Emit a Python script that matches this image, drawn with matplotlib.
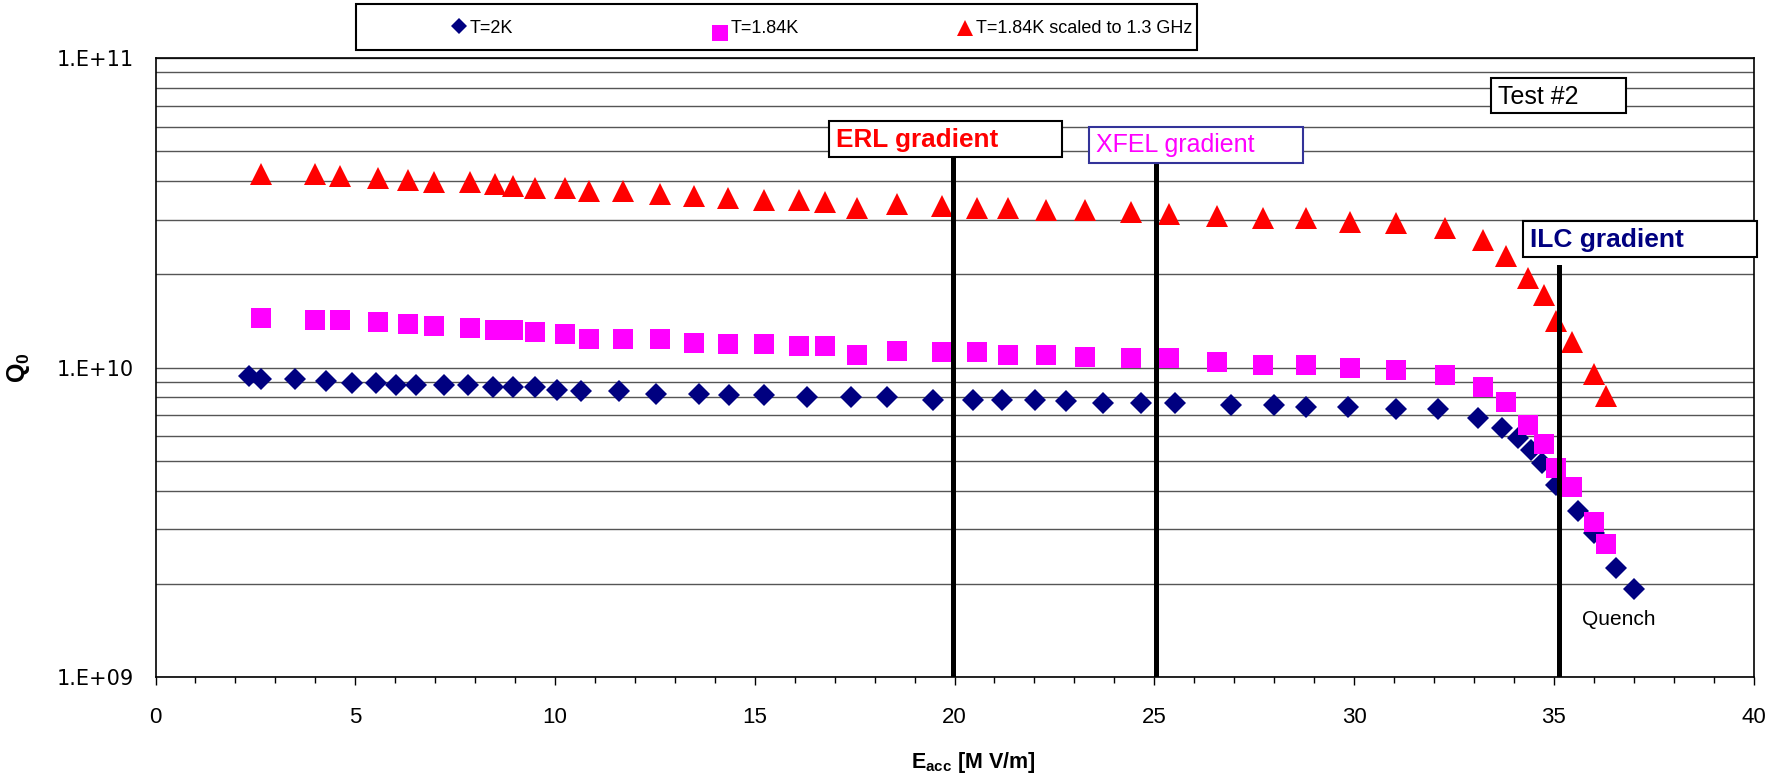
import numpy as np
import matplotlib.pyplot as plt
from matplotlib.patches import Rectangle
from matplotlib.lines import Line2D
from matplotlib.ticker import LogLocator, MultipleLocator, FuncFormatter, NullFormatter

plt.rcParams['mathtext.fontset'] = 'custom'
plt.rcParams['mathtext.rm'] = 'Liberation Sans:bold'
plt.rcParams['mathtext.bf'] = 'Liberation Sans:bold'
plt.rcParams['mathtext.default'] = 'rm'

# Q0 vs Eacc, T = 2 K
e_2k = [2.33, 2.65, 3.48, 4.28, 4.93, 5.53, 6.03, 6.53, 7.23, 7.83,
        8.44, 8.94, 9.49, 10.04, 10.64, 11.59, 12.54, 13.60, 14.35, 15.24,
        16.30, 17.40, 18.31, 19.46, 20.46, 21.20, 22.01, 22.80, 23.71, 24.66,
        25.51, 26.92, 28.01, 28.81, 29.86, 31.06, 32.11, 33.11, 33.71, 34.10,
        34.44, 34.71, 35.06, 35.61, 36.02, 36.57, 37.02]
q_2k = [9.42e9, 9.15e9, 9.15e9, 9.02e9, 8.88e9, 8.88e9, 8.75e9, 8.75e9, 8.75e9, 8.75e9,
        8.62e9, 8.62e9, 8.62e9, 8.49e9, 8.37e9, 8.37e9, 8.24e9, 8.24e9, 8.12e9, 8.12e9,
        8.00e9, 8.00e9, 8.00e9, 7.88e9, 7.88e9, 7.88e9, 7.88e9, 7.77e9, 7.66e9, 7.66e9,
        7.66e9, 7.54e9, 7.54e9, 7.43e9, 7.43e9, 7.32e9, 7.32e9, 6.87e9, 6.37e9, 5.92e9,
        5.42e9, 4.93e9, 4.17e9, 3.44e9, 2.93e9, 2.25e9, 1.92e9]

# T = 1.84 K, same gradients used for the 1.3 GHz scaled curve
e_184 = [2.63, 3.98, 4.63, 5.58, 6.33, 6.98, 7.88, 8.49, 8.94, 9.49,
         10.24, 10.84, 11.69, 12.64, 13.49, 14.34, 15.24, 16.10, 16.75, 17.55,
         18.55, 19.68, 20.56, 21.35, 22.30, 23.26, 24.41, 25.36, 26.56, 27.71,
         28.81, 29.91, 31.06, 32.27, 33.22, 33.80, 34.35, 34.75, 35.06, 35.46,
         36.01, 36.31]
q_184 = [1.44e10, 1.42e10, 1.42e10, 1.40e10, 1.38e10, 1.36e10, 1.34e10, 1.32e10, 1.32e10, 1.30e10,
         1.28e10, 1.24e10, 1.24e10, 1.24e10, 1.20e10, 1.19e10, 1.19e10, 1.17e10, 1.17e10, 1.10e10,
         1.13e10, 1.12e10, 1.12e10, 1.10e10, 1.10e10, 1.08e10, 1.07e10, 1.07e10, 1.04e10, 1.02e10,
         1.02e10, 9.93e9, 9.78e9, 9.49e9, 8.68e9, 7.75e9, 6.51e9, 5.66e9, 4.74e9, 4.11e9,
         3.16e9, 2.68e9]
q_184_scaled = [4.22e10, 4.22e10, 4.16e10, 4.10e10, 4.04e10, 3.98e10, 3.98e10, 3.92e10, 3.87e10, 3.81e10,
                3.81e10, 3.71e10, 3.71e10, 3.64e10, 3.59e10, 3.53e10, 3.47e10, 3.47e10, 3.42e10, 3.27e10,
                3.37e10, 3.32e10, 3.27e10, 3.27e10, 3.23e10, 3.23e10, 3.18e10, 3.14e10, 3.09e10, 3.05e10,
                3.05e10, 2.96e10, 2.92e10, 2.83e10, 2.59e10, 2.30e10, 1.95e10, 1.71e10, 1.41e10, 1.21e10,
                9.53e9, 8.09e9]

series_labels = ['T=2K', 'T=1.84K', 'T=1.84K scaled to 1.3 GHz']

# design gradients of the three machines
gradient_names = ['ERL gradient', 'XFEL gradient', 'ILC gradient']
gradient_e = [19.95, 25.05, 35.12]

W, H = 1782, 780
fig = plt.figure(figsize=(W / 100, H / 100), dpi=100)
ax = fig.add_axes([155.5 / W, 1 - 677 / H, 1598 / W, 619 / H])

ax.plot(e_2k, q_2k, ls='none', marker='D', ms=11, color='#000080', mew=0, zorder=3)
ax.plot(e_184, q_184, ls='none', marker='s', ms=14.2, color='#ff00ff', mew=0, zorder=3)
ax.plot(e_184, q_184_scaled, ls='none', marker='^', ms=15.4, color='#ff0000', mew=0, zorder=3)

ax.set_yscale('log')
ax.set_ylim(1e9, 1e11)
ax.set_xlim(0, 40)
ax.yaxis.set_major_locator(LogLocator(base=10))
ax.yaxis.set_minor_locator(LogLocator(base=10, subs=np.arange(2, 10)))
ax.yaxis.set_major_formatter(FuncFormatter(lambda v, _: '1.E+%02d' % round(np.log10(v))))
ax.yaxis.set_minor_formatter(NullFormatter())
ax.xaxis.set_major_locator(MultipleLocator(5))
ax.xaxis.set_minor_locator(MultipleLocator(1))
ax.grid(which='both', axis='y', color='#555555', lw=1.0)
ax.set_axisbelow(True)
for s in ax.spines.values():
    s.set_linewidth(1.2)

ax.tick_params(axis='y', which='both', length=0, pad=15.5)
ax.tick_params(axis='x', which='major', direction='out', length=5.8, width=1, pad=16)
ax.tick_params(axis='x', which='minor', direction='out', length=4.3, width=1)
for lab in ax.get_yticklabels():
    lab.set_fontfamily('DejaVu Sans')
    lab.set_fontsize(15)
for lab in ax.get_xticklabels():
    lab.set_fontfamily(['Liberation Sans', 'DejaVu Sans'])
    lab.set_fontsize(16)

ax.set_xlabel(r'E$_{\rm acc}$ [M V/m]', fontsize=15.5, fontweight='bold', family='Liberation Sans')
ax.xaxis.set_label_coords(0.5118, -0.118)
fig.text(19 / W, 1 - 368 / H, r'Q$_{\rm 0}$', rotation=90, ha='center', va='center',
         fontsize=18, fontweight='bold', family='Liberation Sans')

# gradient boxes (axes fraction): x0, x1, y0, y1, text x, text baseline
boxes = [
    (0.4217, 0.5671, 0.8405, 0.8987, 0.4258, 0.8557),
    (0.5842, 0.7181, 0.8309, 0.8890, 0.5885, 0.8486),
    (0.8558, 1.0022, 0.6790, 0.7372, 0.8601, 0.6951),
]
line_tops = [0.8405, 0.8309, 0.6629]
box_styles = [
    dict(edge='black', color='#ff0000', weight='bold', size=18.8),
    dict(edge='#333399', color='#ff00ff', weight='normal', size=18),
    dict(edge='black', color='#000080', weight='bold', size=19),
]
for name, e, top, b, st in zip(gradient_names, gradient_e, line_tops, boxes, box_styles):
    ax.axvline(e, ymin=0, ymax=top, color='black', lw=3.6, zorder=4)
    ax.add_patch(Rectangle((b[0], b[2]), b[1] - b[0], b[3] - b[2], transform=ax.transAxes,
                           facecolor='white', edgecolor=st['edge'], lw=1.5, clip_on=False, zorder=5))
    ax.text(b[4], b[5], name, transform=ax.transAxes, ha='left', va='baseline',
            color=st['color'], fontsize=st['size'], fontweight=st['weight'],
            family='Liberation Sans', zorder=6, clip_on=False)

ax.add_patch(Rectangle((0.8357, 0.9116), 0.0845, 0.0556, transform=ax.transAxes,
                       facecolor='white', edgecolor='black', lw=1.5, clip_on=False, zorder=5))
ax.text(0.8401, 0.9253, 'Test #2', transform=ax.transAxes, ha='left', va='baseline',
        fontsize=18, family='Liberation Sans', zorder=6)
ax.text(0.9155, 0.084, 'Quench', transform=ax.transAxes, ha='center', va='baseline',
        fontsize=15, family='Liberation Sans', zorder=6)

# legend drawn as a framed row at the top of the figure
fig.add_artist(Rectangle((356 / W, 1 - 50 / H), 841 / W, 46 / H, transform=fig.transFigure,
                         facecolor='white', edgecolor='black', lw=1.5))
leg_marker_x = [459, 720, 965]
leg_marker_y = [26, 33, 28]
leg_text_x = [470, 731, 976]
leg_styles = [('D', 8, '#000080'), ('s', 11, '#ff00ff'), ('^', 12, '#ff0000')]
for lab, mx, my, tx, (m, ms, c) in zip(series_labels, leg_marker_x, leg_marker_y, leg_text_x, leg_styles):
    fig.add_artist(Line2D([mx / W], [1 - my / H], transform=fig.transFigure, ls='none',
                          marker=m, ms=ms, color=c, mew=0))
    fig.text(tx / W, 1 - 33 / H, lab, ha='left', va='baseline', fontsize=13,
             family='Liberation Sans')

fig.savefig('out.png', dpi=100)
